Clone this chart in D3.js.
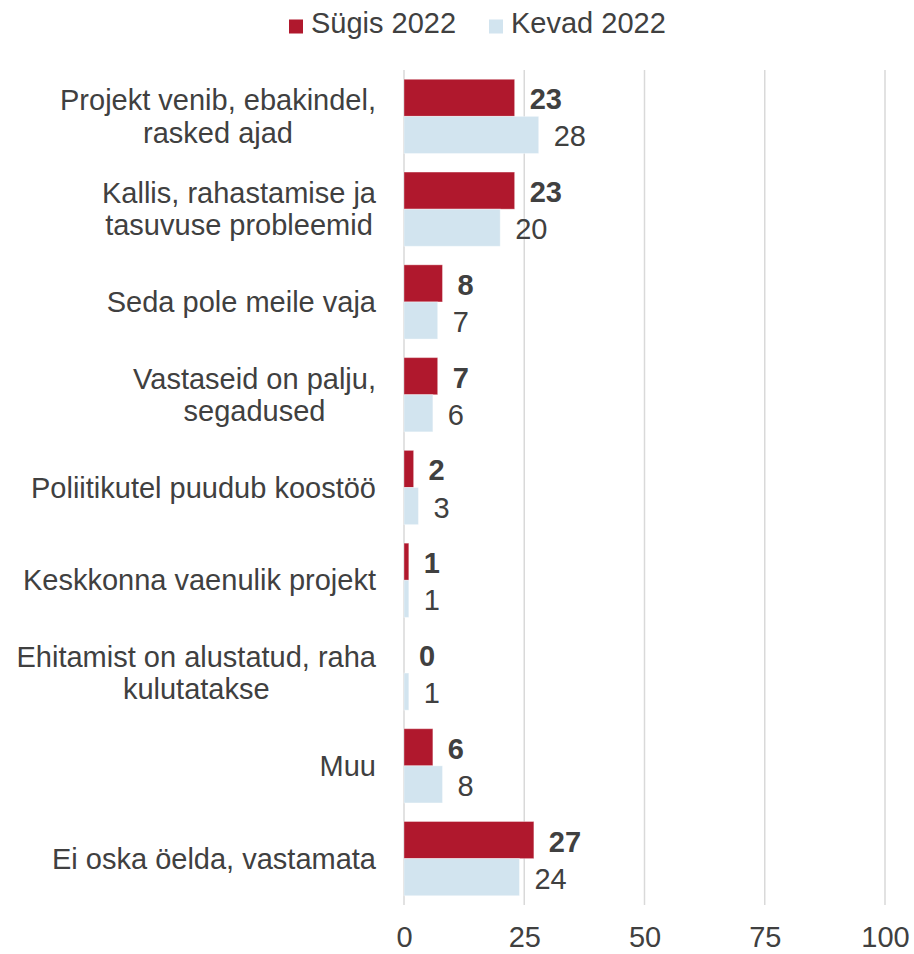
<!DOCTYPE html>
<html>
<head>
<meta charset="utf-8">
<script src="https://cdn.jsdelivr.net/npm/d3@7"></script>
<style>
  html, body { margin: 0; padding: 0; background: #fff; }
  svg { display: block; font-family: "Liberation Sans", Arial, sans-serif; }
</style>
</head>
<body>
<svg id="chart" width="914" height="954"></svg>
<script>
const categories = [
  ["Projekt venib, ebakindel,", "rasked ajad"],
  ["Kallis, rahastamise ja", "tasuvuse probleemid"],
  ["Seda pole meile vaja"],
  ["Vastaseid on palju,", "segadused"],
  ["Poliitikutel puudub koostöö"],
  ["Keskkonna vaenulik projekt"],
  ["Ehitamist on alustatud, raha", "kulutatakse"],
  ["Muu"],
  ["Ei oska öelda, vastamata"]
];
const seriesNames = ["Sügis 2022", "Kevad 2022"];
const sygis2022 = [23, 23, 8, 7, 2, 1, 0, 6, 27];
const kevad2022 = [28, 20, 7, 6, 3, 1, 1, 8, 24];
const tickValues = [0, 25, 50, 75, 100];
const colors = ["#B0182D", "#D2E4EF"];

const seriesValues = [sygis2022, kevad2022];
const FS = 29;
const textColor = "#404040";
const svg = d3.select("#chart");

const catKeys = categories.map((c, i) => i);
const x = d3.scaleLinear().domain([0, 100]).range([404, 885]);
const y = d3.scaleBand().domain(catKeys).range([70, 905]).paddingInner(0.2).paddingOuter(0.1);
const ys = d3.scaleBand().domain([0, 1]).range([0, y.bandwidth()]);

// gridlines
svg.append("g").selectAll("line").data(tickValues).join("line")
  .attr("x1", d => x(d)).attr("x2", d => x(d))
  .attr("y1", 70).attr("y2", 905)
  .attr("stroke", "#D9D9D9").attr("stroke-width", 1.5);

// x axis labels
const xAxis = d3.axisBottom(x).tickValues(tickValues).tickSize(0).tickPadding(0);
const gx = svg.append("g").attr("transform", "translate(0,905)").call(xAxis);
gx.select(".domain").remove();
gx.selectAll("text")
  .attr("y", 42).attr("dy", null)
  .attr("font-size", FS).attr("fill", textColor)
  .attr("font-family", "Liberation Sans, Arial, sans-serif");

// bars
const groups = svg.append("g").selectAll("g").data(catKeys).join("g")
  .attr("transform", d => `translate(0,${y(d)})`);

groups.selectAll("rect")
  .data(i => seriesValues.map((s, k) => ({k, v: s[i]})))
  .join("rect")
  .attr("x", x(0))
  .attr("y", d => ys(d.k))
  .attr("width", d => x(d.v) - x(0))
  .attr("height", ys.bandwidth())
  .attr("fill", d => colors[d.k])
  .attr("stroke", "rgba(255,255,255,0.35)").attr("stroke-width", 1);

groups.selectAll("text.val")
  .data(i => seriesValues.map((s, k) => ({k, v: s[i]})))
  .join("text").attr("class", "val")
  .attr("x", d => x(d.v) + 15)
  .attr("y", d => ys(d.k) + ys.bandwidth() / 2 + 1.5)
  .attr("dominant-baseline", "central")
  .attr("font-size", FS)
  .attr("font-weight", d => d.k === 0 ? "bold" : "normal")
  .attr("fill", textColor)
  .text(d => d.v);

// category labels
const rightEdge = 376;
const lineH = 32.3;
const labG = svg.append("g");
categories.forEach((lines, i) => {
  const cy = y(i) + y.bandwidth() / 2;
  const t = labG.append("text")
    .attr("font-size", FS).attr("fill", textColor)
    .attr("text-anchor", "middle");
  const spans = lines.map((ln, j) => t.append("tspan")
    .attr("y", cy + (j - (lines.length - 1) / 2) * lineH)
    .attr("dominant-baseline", "central")
    .text(ln));
  const maxW = d3.max(spans, s => s.node().getComputedTextLength());
  spans.forEach(s => s.attr("x", rightEdge - maxW / 2));
});

// legend
const legendX = [289, 489];
const lg = svg.append("g");
seriesNames.forEach((name, k) => {
  lg.append("rect").attr("x", legendX[k]).attr("y", 19.5)
    .attr("width", 14).attr("height", 14).attr("fill", colors[k]);
  lg.append("text").attr("x", legendX[k] + 22).attr("y", 32.5)
    .attr("font-size", FS).attr("fill", textColor).text(name);
});
</script>
</body>
</html>
